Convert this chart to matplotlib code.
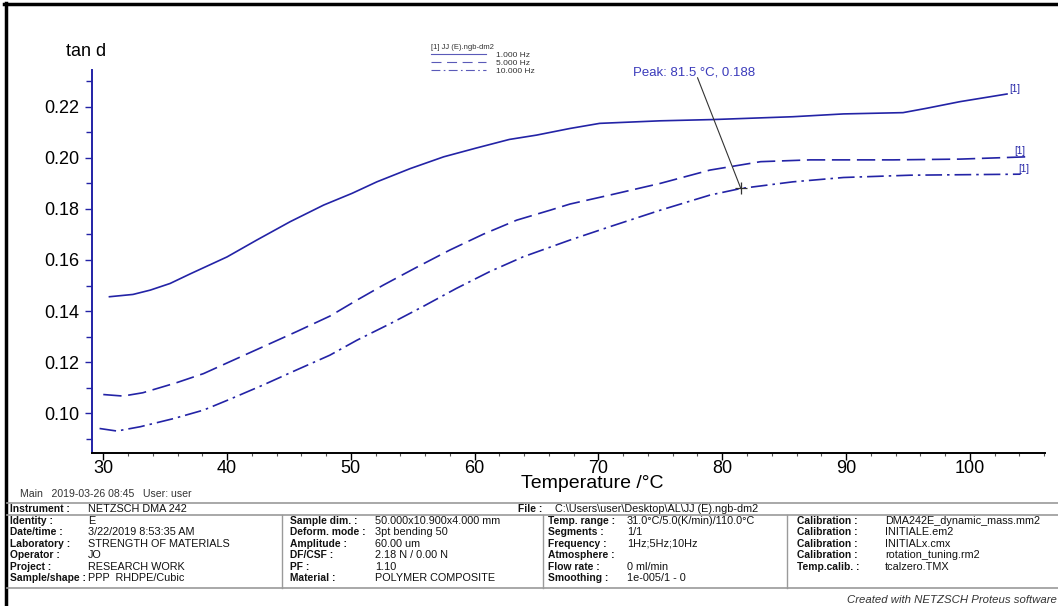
import matplotlib
matplotlib.use("Agg")
import matplotlib.pyplot as plt
from matplotlib.lines import Line2D
from matplotlib.ticker import MultipleLocator, FormatStrFormatter

plt.rcParams['font.family'] = ['Liberation Sans', 'DejaVu Sans']

# tan d curves
temp_1hz = [30.5, 32.4, 33.8, 35.4, 37.0, 40.0, 42.4, 45.1, 47.8, 50.1, 52.1, 54.8, 57.5,
            60.1, 62.8, 65.0, 67.7, 70.1, 75.0, 79.3, 85.7, 89.8, 94.6, 96.5, 99.2, 103.0]
tand_1hz = [0.1456, 0.1465, 0.1482, 0.1508, 0.1545, 0.1612, 0.1678, 0.1750, 0.1815, 0.1861,
            0.1906, 0.1958, 0.2004, 0.2038, 0.2072, 0.2089, 0.2115, 0.2135, 0.2145, 0.2150,
            0.2161, 0.2172, 0.2177, 0.2194, 0.2220, 0.2250]

temp_5hz = [30.0, 31.6, 33.2, 35.9, 38.1, 40.2, 42.9, 45.6, 48.3, 50.5, 52.6, 55.3, 58.0,
            60.7, 63.4, 66.1, 67.7, 70.9, 75.0, 79.0, 83.1, 87.1, 93.8, 99.2, 104.6]
tand_5hz = [0.1073, 0.1067, 0.1080, 0.1119, 0.1155, 0.1201, 0.1260, 0.1319, 0.1380, 0.1443,
            0.1501, 0.1571, 0.1639, 0.1701, 0.1756, 0.1795, 0.1819, 0.1854, 0.1900, 0.1952,
            0.1985, 0.1992, 0.1992, 0.1995, 0.2004]

temp_10hz = [29.7, 31.1, 33.0, 35.7, 38.1, 40.2, 42.9, 45.6, 48.3, 50.5, 53.2, 55.8, 58.5,
             61.2, 63.9, 67.7, 70.9, 75.0, 79.0, 81.5, 85.7, 89.8, 95.2, 104.1]
tand_10hz = [0.0940, 0.0930, 0.0947, 0.0979, 0.1012, 0.1054, 0.1110, 0.1169, 0.1227, 0.1286,
             0.1351, 0.1417, 0.1488, 0.1554, 0.1612, 0.1678, 0.1730, 0.1795, 0.1854, 0.1880,
             0.1906, 0.1923, 0.1932, 0.1936]

peak_T = 81.5
peak_v = 0.188
series_labels = ['1.000 Hz', '5.000 Hz', '10.000 Hz']

# footer table text
info_col1 = [("Identity :", "E"), ("Date/time :", "3/22/2019 8:53:35 AM"),
             ("Laboratory :", "STRENGTH OF MATERIALS"), ("Operator :", "JO"),
             ("Project :", "RESEARCH WORK"), ("Sample/shape :", "PPP  RHDPE/Cubic")]
info_col2 = [("Sample dim. :", "50.000x10.900x4.000 mm"), ("Deform. mode :", "3pt bending 50"),
             ("Amplitude :", "60.00 um"), ("DF/CSF :", "2.18 N / 0.00 N"),
             ("PF :", "1.10"), ("Material :", "POLYMER COMPOSITE")]
info_col3 = [("Temp. range :", "31.0°C/5.0(K/min)/110.0°C"), ("Segments :", "1/1"),
             ("Frequency :", "1Hz;5Hz;10Hz"), ("Atmosphere :", ""),
             ("Flow rate :", "0 ml/min"), ("Smoothing :", "1e-005/1 - 0")]
info_col4 = [("Calibration :", "DMA242E_dynamic_mass.mm2"), ("Calibration :", "INITIALE.em2"),
             ("Calibration :", "INITIALx.cmx"), ("Calibration :", "rotation_tuning.rm2"),
             ("Temp.calib. :", "tcalzero.TMX")]

W, H = 1058, 606
blue = '#2323a6'


def fx(x):
    return x / W


def fy(y):
    return 1 - y / H


fig = plt.figure(figsize=(W / 100, H / 100), dpi=100)
ax = fig.add_axes([fx(92), fy(453), fx(1045) - fx(92), fy(70) - fy(453)])

dash = (0, (11, 4))
dashdot = (0, (10, 3, 1.5, 3))
ax.plot(temp_1hz, tand_1hz, color=blue, lw=1.2, ls='-')
ax.plot(temp_5hz, tand_5hz, color=blue, lw=1.2, ls=dash)
ax.plot(temp_10hz, tand_10hz, color=blue, lw=1.2, ls=dashdot)

ax.set_xlim(29.09, 106.07)
ax.set_ylim(0.0844, 0.2344)

for s in ['top', 'right']:
    ax.spines[s].set_visible(False)
ax.spines['left'].set_color(blue)
ax.spines['left'].set_linewidth(1.4)
ax.spines['bottom'].set_color('black')
ax.spines['bottom'].set_linewidth(1.4)

ax.xaxis.set_major_locator(MultipleLocator(10))
ax.xaxis.set_minor_locator(MultipleLocator(2))
ax.yaxis.set_major_locator(MultipleLocator(0.02))
ax.yaxis.set_minor_locator(MultipleLocator(0.01))
ax.yaxis.set_major_formatter(FormatStrFormatter('%.2f'))
ax.tick_params(axis='x', which='major', length=5, width=1, color='black', labelsize=13, pad=0)
ax.tick_params(axis='x', which='minor', length=2.5, width=0.8, color='#555555')
ax.tick_params(axis='y', which='major', length=5, width=1, color=blue, labelsize=13, pad=4)
ax.tick_params(axis='y', which='minor', length=4, width=1, color=blue)

fig.text(fx(592), fy(484), "Temperature /°C", fontsize=14, ha='center', va='center')
fig.text(fx(66), fy(51), "tan d", fontsize=13, ha='left', va='center')

# peak annotation
ax.plot([peak_T], [peak_v], marker='+', color='#333333', ms=8, mew=0.9)
ax.annotate('', xy=(peak_T, peak_v), xytext=(78.0, 0.2314),
            arrowprops=dict(arrowstyle='-', color='#333333', lw=0.8, shrinkA=0, shrinkB=0),
            annotation_clip=False)
ax.text(72.8, 0.2336, "Peak: 81.5 °C, 0.188", color='#3b3bbb', fontsize=9.5,
        ha='left', va='center', clip_on=False)

# curve end tags
ax.text(temp_1hz[-1] + 0.2, tand_1hz[-1], "[1]", color=blue, fontsize=7, ha='left', va='bottom')
ax.text(temp_5hz[-1] - 1.0, tand_5hz[-1] + 0.0003, "[1]", color=blue, fontsize=7, ha='left', va='bottom')
ax.text(temp_10hz[-1] - 0.2, tand_10hz[-1], "[1]", color=blue, fontsize=7, ha='left', va='bottom')

leg_color = '#5a5ab8'
handles = [Line2D([], [], color=leg_color, lw=0.8, ls='-'),
           Line2D([], [], color=leg_color, lw=0.8, ls=(0, (9, 5))),
           Line2D([], [], color=leg_color, lw=0.8, ls=(0, (8, 3, 1.5, 3)))]
leg = ax.legend(handles, series_labels, title="[1] JJ (E).ngb-dm2",
                loc='upper left', bbox_to_anchor=(fx(427), fy(40)), bbox_transform=fig.transFigure,
                fontsize=6, title_fontsize=5.5, frameon=False, handlelength=6.6,
                handletextpad=1.2, labelspacing=0.0, borderpad=0, alignment='left')
for t in leg.get_texts():
    t.set_color('#333333')
leg.get_title().set_color('#333333')

# outer frame
fig.add_artist(Line2D([fx(4), 1], [fy(4), fy(4)], color='black', lw=2.5))
fig.add_artist(Line2D([fx(6), fx(6)], [fy(3), 0], color='black', lw=2.5))

fig.text(fx(20), fy(494), "Main   2019-03-26 08:45   User: user", fontsize=7.6,
         color='#333333', ha='left', va='center')

# info table
gray = '#9a9a9a'
for yy in [503, 515, 588]:
    fig.add_artist(Line2D([fx(7), 1], [fy(yy), fy(yy)], color=gray, lw=1.2))
for xx in [282, 543, 787]:
    fig.add_artist(Line2D([fx(xx), fx(xx)], [fy(515), fy(588)], color=gray, lw=1))

lkw = dict(fontsize=7.4, ha='left', va='center', color='#111111', fontweight='bold')
vkw = dict(fontsize=7.8, ha='left', va='center', color='#111111')
fig.text(fx(10), fy(509), "Instrument :", **lkw)
fig.text(fx(88), fy(509), "NETZSCH DMA 242", **vkw)
fig.text(fx(518), fy(509), "File :", **lkw)
fig.text(fx(555), fy(509), r"C:\Users\user\Desktop\AL\JJ (E).ngb-dm2", **vkw)

row_y = [521, 532, 544, 555, 567, 578]
columns = [(info_col1, 10, 88), (info_col2, 290, 375), (info_col3, 548, 627), (info_col4, 797, 885)]
for rows, xl, xv in columns:
    for (lab, val), yy in zip(rows, row_y):
        fig.text(fx(xl), fy(yy), lab, **lkw)
        fig.text(fx(xv), fy(yy), val, **vkw)

fig.text(fx(847), fy(600), "Created with NETZSCH Proteus software", fontsize=8.2,
         style='italic', ha='left', va='center', color='#333333')

fig.savefig("out.png", dpi=100)
